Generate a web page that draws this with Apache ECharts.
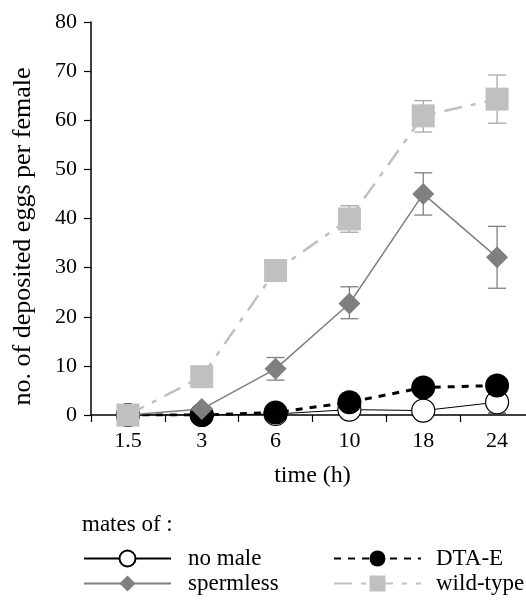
<!DOCTYPE html>
<html>
<head>
<meta charset="utf-8">
<script src="https://cdn.jsdelivr.net/npm/echarts@6/dist/echarts.min.js"></script>
<style>html,body{margin:0;padding:0;background:#fff;}#c{width:526px;height:604px;}</style>
</head>
<body>
<div id="c"></div>
<script>
var categories = ['1.5', '3', '6', '10', '18', '24'];
var noMale = [0, 0, 0.2, 1.1, 0.9, 2.6];
var dtaE = [0, 0, 0.5, 2.6, 5.6, 6.0];
var spermless = [0, 1.2, 9.4, 22.7, 45.0, 32.1];
var wildType = [0, 7.8, 29.4, 39.9, 60.9, 64.3];
// error bars: [category index, low, high]
var noMaleErr = [[4, 0.5, 1.3], [5, 0.4, 4.1]];
var spermlessErr = [[2, 7.1, 11.7], [3, 19.6, 26.1], [4, 40.7, 49.3], [5, 25.8, 38.4]];
var wildTypeErr = [[3, 37.2, 42.6], [4, 57.6, 64.0], [5, 59.4, 69.2]];
var yTicks = {min: 0, max: 80, interval: 10};

var FONT = 'Liberation Serif';

function errSeries(data, color, width) {
  return {
    type: 'custom',
    data: data,
    z: 1,
    silent: true,
    clip: false,
    renderItem: function (params, api) {
      var x = api.value(0);
      var lo = api.coord([x, api.value(1)]);
      var hi = api.coord([x, api.value(2)]);
      var hw = 9;
      var st = {stroke: color, lineWidth: width};
      return {
        type: 'group',
        children: [
          {type: 'line', shape: {x1: lo[0], y1: lo[1], x2: hi[0], y2: hi[1]}, style: st},
          {type: 'line', shape: {x1: lo[0] - hw, y1: lo[1], x2: lo[0] + hw, y2: lo[1]}, style: st},
          {type: 'line', shape: {x1: hi[0] - hw, y1: hi[1], x2: hi[0] + hw, y2: hi[1]}, style: st}
        ]
      };
    }
  };
}

function legendAt(name, left, top, pad) {
  return {
    data: [name],
    left: left,
    top: top,
    itemWidth: 87,
    itemHeight: 20,
    padding: 0,
    selectedMode: false,
    textStyle: {fontFamily: FONT, fontSize: 23, color: '#000', padding: [0, 0, 0, pad]}
  };
}

var chart = echarts.init(document.getElementById('c'), null, {renderer: 'canvas'});
chart.setOption({
  backgroundColor: '#fff',
  animation: false,
  title: {
    text: 'mates of :',
    left: 82,
    top: 513,
    padding: 0,
    textStyle: {fontFamily: FONT, fontSize: 23, fontWeight: 'normal', color: '#000'}
  },
  legend: [
    legendAt('no male', 83, 547, 12),
    legendAt('DTA-E', 333, 547, 10),
    legendAt('spermless', 83, 572, 12),
    legendAt('wild-type', 333, 572, 10)
  ],
  grid: {left: 91, width: 443, top: 22, height: 393, containLabel: false, outerBoundsMode: 'none'},
  xAxis: {
    type: 'category',
    data: categories,
    boundaryGap: true,
    name: 'time (h)',
    nameLocation: 'middle',
    nameGap: 49,
    nameTextStyle: {fontFamily: FONT, fontSize: 24, color: '#000'},
    axisLine: {lineStyle: {color: '#000', width: 1.5}},
    axisTick: {show: true, length: 7, lineStyle: {color: '#000', width: 1.2}},
    axisLabel: {fontFamily: FONT, fontSize: 22, color: '#000', margin: 15},
    splitLine: {show: false}
  },
  yAxis: {
    type: 'value',
    min: yTicks.min,
    max: yTicks.max,
    interval: yTicks.interval,
    name: 'no. of deposited eggs per female',
    nameLocation: 'middle',
    nameGap: 55,
    nameTextStyle: {fontFamily: FONT, fontSize: 26, color: '#000', padding: [0, 36, 0, 0]},
    axisLine: {show: true, lineStyle: {color: '#000', width: 1.5}},
    axisTick: {show: true, length: 7, lineStyle: {color: '#000', width: 1.2}},
    axisLabel: {fontFamily: FONT, fontSize: 22, color: '#000', margin: 14},
    splitLine: {show: false}
  },
  series: [
    errSeries(noMaleErr, '#000', 1),
    errSeries(spermlessErr, '#7f7f7f', 1.3),
    errSeries(wildTypeErr, '#a8a8a8', 1.3),
    {
      name: 'no male', type: 'line', data: noMale, z: 2,
      symbol: 'circle', symbolSize: 23, showAllSymbol: true,
      lineStyle: {color: '#000', width: 1},
      itemStyle: {color: '#fff', borderColor: '#000', borderWidth: 1.2}
    },
    {
      name: 'DTA-E', type: 'line', data: dtaE, z: 3,
      symbol: 'circle', symbolSize: 24, showAllSymbol: true,
      lineStyle: {color: '#000', width: 3, type: [7, 7]},
      itemStyle: {color: '#000'}
    },
    {
      name: 'spermless', type: 'line', data: spermless, z: 4,
      symbol: 'diamond', symbolSize: 22, showAllSymbol: true,
      lineStyle: {color: '#7f7f7f', width: 1.5},
      itemStyle: {color: '#7f7f7f'}
    },
    {
      name: 'wild-type', type: 'line', data: wildType, z: 5,
      symbol: 'rect', symbolSize: 23, showAllSymbol: true,
      lineStyle: {color: '#c0c0c0', width: 2.5, type: [18, 9, 5, 9]},
      itemStyle: {color: '#c0c0c0'}
    }
  ]
});
</script>
</body>
</html>
